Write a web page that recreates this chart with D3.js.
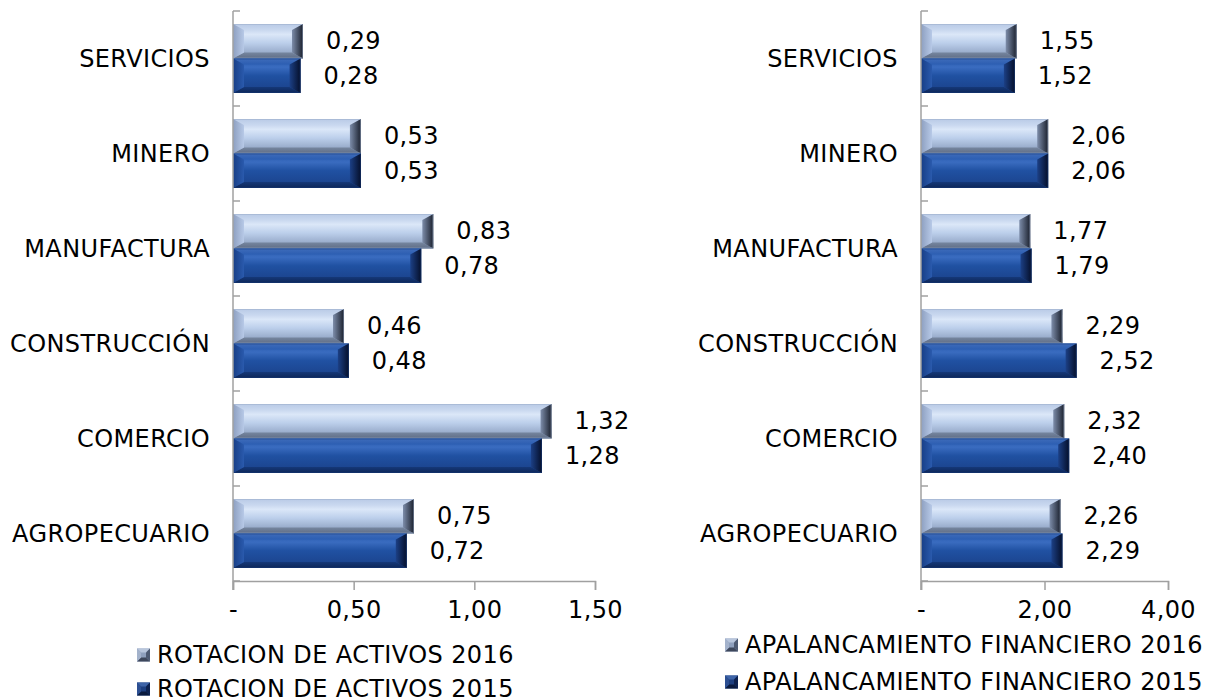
<!DOCTYPE html>
<html>
<head>
<meta charset="utf-8">
<script src="https://cdn.jsdelivr.net/npm/d3@7"></script>
<style>
  html, body { margin: 0; padding: 0; background: #fff; }
  svg text { font-family: "DejaVu Sans", Verdana, sans-serif; fill: #000; letter-spacing: 0.4px; }
</style>
</head>
<body>
<svg id="chart" width="1205" height="700"></svg>
<script>
const categories = ["SERVICIOS", "MINERO", "MANUFACTURA", "CONSTRUCCIÓN", "COMERCIO", "AGROPECUARIO"];
const seriesYears = ["2016", "2015"];
const rotacion2016 = [0.29, 0.53, 0.83, 0.46, 1.32, 0.75];
const rotacion2015 = [0.28, 0.53, 0.78, 0.48, 1.28, 0.72];
const apalancamiento2016 = [1.55, 2.06, 1.77, 2.29, 2.32, 2.26];
const apalancamiento2015 = [1.52, 2.06, 1.79, 2.52, 2.40, 2.29];
const leftTicks = [0, 0.5, 1.0, 1.5];
const leftTickLabels = ["-", "0,50", "1,00", "1,50"];
const rightTicks = [0, 2, 4];
const rightTickLabels = ["-", "2,00", "4,00"];
const leftLegend = ["ROTACION DE ACTIVOS 2016", "ROTACION DE ACTIVOS 2015"];
const rightLegend = ["APALANCAMIENTO FINANCIERO 2016", "APALANCAMIENTO FINANCIERO 2015"];

const svg = d3.select("#chart");
const defs = svg.append("defs");

function grad(id, stops, horizontal) {
  const g = defs.append("linearGradient").attr("id", id)
    .attr("x1", 0).attr("y1", 0)
    .attr("x2", horizontal ? 1 : 0).attr("y2", horizontal ? 0 : 1);
  stops.forEach(s => g.append("stop").attr("offset", s[0]).attr("stop-color", s[1]));
}
// light (2016)
grad("lFace", [[0, "#b0c2e2"], [0.3, "#dbe7f8"], [0.55, "#bccfeb"], [0.85, "#96a9c8"], [1, "#7f8fab"]]);
grad("lTop", [[0, "#b9cae6"], [1, "#c9d8ef"]]);
grad("lBot", [[0, "#76869f"], [1, "#5f6d86"]]);
grad("lLeft", [[0, "#8d9fc0"], [1, "#b7c9e7"]], true);
grad("lRight", [[0, "#7d8daa"], [1, "#1a202d"]], true);
// dark (2015)
grad("dFace", [[0, "#2456a8"], [0.25, "#3a6cc0"], [0.5, "#2051a2"], [1, "#1a4088"]]);
grad("dTop", [[0, "#3f6cba"], [1, "#2c5eb2"]]);
grad("dBot", [[0, "#153878"], [1, "#0d2658"]]);
grad("dLeft", [[0, "#173e86"], [1, "#2a5aad"]], true);
grad("dRight", [[0, "#1c4086"], [1, "#050f2a"]], true);

const styles = {
  "2016": { face: "url(#lFace)", top: "url(#lTop)", bot: "url(#lBot)", left: "url(#lLeft)", right: "url(#lRight)", edge: "#9aabc8" },
  "2015": { face: "url(#dFace)", top: "url(#dTop)", bot: "url(#dBot)", left: "url(#dLeft)", right: "url(#dRight)", edge: "#163a7a" }
};

function bevelBar(g, x, y, w, h, st) {
  const bx = Math.min(11, w / 2), by = Math.min(6, h / 2);
  const gg = g.append("g");
  gg.append("rect").attr("x", x).attr("y", y).attr("width", w).attr("height", h).attr("fill", st.face);
  const poly = (pts, fill) => gg.append("polygon").attr("points", pts.map(p => p.join(",")).join(" ")).attr("fill", fill);
  poly([[x, y], [x + w, y], [x + w - bx, y + by], [x + bx, y + by]], st.top);
  poly([[x, y + h], [x + w, y + h], [x + w - bx, y + h - by], [x + bx, y + h - by]], st.bot);
  poly([[x, y], [x + bx, y + by], [x + bx, y + h - by], [x, y + h]], st.left);
  poly([[x + w, y], [x + w - bx, y + by], [x + w - bx, y + h - by], [x + w, y + h]], st.right);
  gg.append("rect").attr("x", x + 0.5).attr("y", y + 0.5).attr("width", Math.max(0, w - 1)).attr("height", h - 1)
    .attr("fill", "none").attr("stroke", st.edge).attr("stroke-width", 1).attr("stroke-opacity", 0.5);
}

const fmt = v => d3.format(".2f")(v).replace(".", ",");
const AXIS = "#a0a0a0";
const FS = 24;

function panel(cfg) {
  const g = svg.append("g");
  const x = d3.scaleLinear().domain(cfg.domain).range([cfg.x0, cfg.x1]);
  const y = d3.scaleBand().domain(categories).range([11, 581]).paddingInner(0).paddingOuter(0);
  const sub = d3.scaleBand().domain(seriesYears).range([13, y.bandwidth() - 13]);
  const vals = { "2016": cfg.s2016, "2015": cfg.s2015 };

  // bars
  categories.forEach((c, i) => {
    seriesYears.forEach(yr => {
      const v = vals[yr][i];
      const by = y(c) + sub(yr);
      bevelBar(g, x(0), by, x(v) - x(0), sub.bandwidth(), styles[yr]);
      g.append("text").attr("x", x(v) + 23).attr("y", by + sub.bandwidth() / 2)
        .attr("dominant-baseline", "central").attr("font-size", FS).text(fmt(v));
    });
    g.append("text").attr("x", cfg.x0 - 23).attr("y", y(c) + y.bandwidth() / 2)
      .attr("text-anchor", "end").attr("dominant-baseline", "central").attr("font-size", FS).text(c);
  });

  // y axis line and inward ticks
  g.append("line").attr("x1", x(0)).attr("x2", x(0)).attr("y1", y.range()[0]).attr("y2", y.range()[1] + 9)
    .attr("stroke", AXIS).attr("stroke-width", 1.5);
  const bounds = categories.map(c => y(c)).concat([y.range()[1]]);
  g.selectAll(".yt").data(bounds).enter().append("line")
    .attr("x1", x(0)).attr("x2", x(0) + 7).attr("y1", d => d).attr("y2", d => d)
    .attr("stroke", AXIS).attr("stroke-width", 1.5);

  // x axis
  const ax = d3.axisBottom(x).tickValues(cfg.ticks).tickSize(9).tickPadding(11)
    .tickFormat((d, i) => cfg.tickLabels[i]);
  const axg = g.append("g").attr("transform", `translate(0,${y.range()[1]})`).call(ax);
  axg.select(".domain").attr("stroke", AXIS).attr("stroke-width", 1.5);
  axg.selectAll(".tick line").attr("stroke", AXIS).attr("stroke-width", 1.5);
  axg.selectAll(".tick text").attr("font-size", FS).attr("font-family", "DejaVu Sans, Verdana, sans-serif").attr("fill", "#000");

  // legend
  cfg.legend.forEach((t, i) => {
    const ly = cfg.legY[i];
    const mx = cfg.legX, ms = 13;
    bevelMarker(g, mx, ly - ms / 2, ms, seriesYears[i]);
    g.append("text").attr("x", mx + 20).attr("y", ly).attr("dominant-baseline", "central")
      .attr("font-size", FS).text(t);
  });
}

function bevelMarker(g, x, y, s, yr) {
  const c = yr === "2016"
    ? { face: "#8fa0bd", top: "#b8c6dc", left: "#a3b2cb", right: "#4d5a72", bot: "#3d475b" }
    : { face: "#1d3f80", top: "#3e64a8", left: "#2c4f92", right: "#0d2250", bot: "#0a1a3e" };
  const b = 4;
  const poly = (pts, fill) => g.append("polygon").attr("points", pts.map(p => p.join(",")).join(" ")).attr("fill", fill);
  g.append("rect").attr("x", x).attr("y", y).attr("width", s).attr("height", s).attr("fill", c.face);
  poly([[x, y], [x + s, y], [x + s - b, y + b], [x + b, y + b]], c.top);
  poly([[x, y + s], [x + s, y + s], [x + s - b, y + s - b], [x + b, y + s - b]], c.bot);
  poly([[x, y], [x + b, y + b], [x + b, y + s - b], [x, y + s]], c.left);
  poly([[x + s, y], [x + s - b, y + b], [x + s - b, y + s - b], [x + s, y + s]], c.right);
}

panel({ domain: [0, 1.5], x0: 233, x1: 595, s2016: rotacion2016, s2015: rotacion2015,
  ticks: leftTicks, tickLabels: leftTickLabels, legend: leftLegend, legX: 137, legY: [655, 689] });
panel({ domain: [0, 4], x0: 921, x1: 1168, s2016: apalancamiento2016, s2015: apalancamiento2015,
  ticks: rightTicks, tickLabels: rightTickLabels, legend: rightLegend, legX: 725, legY: [645, 682] });
</script>
</body>
</html>
